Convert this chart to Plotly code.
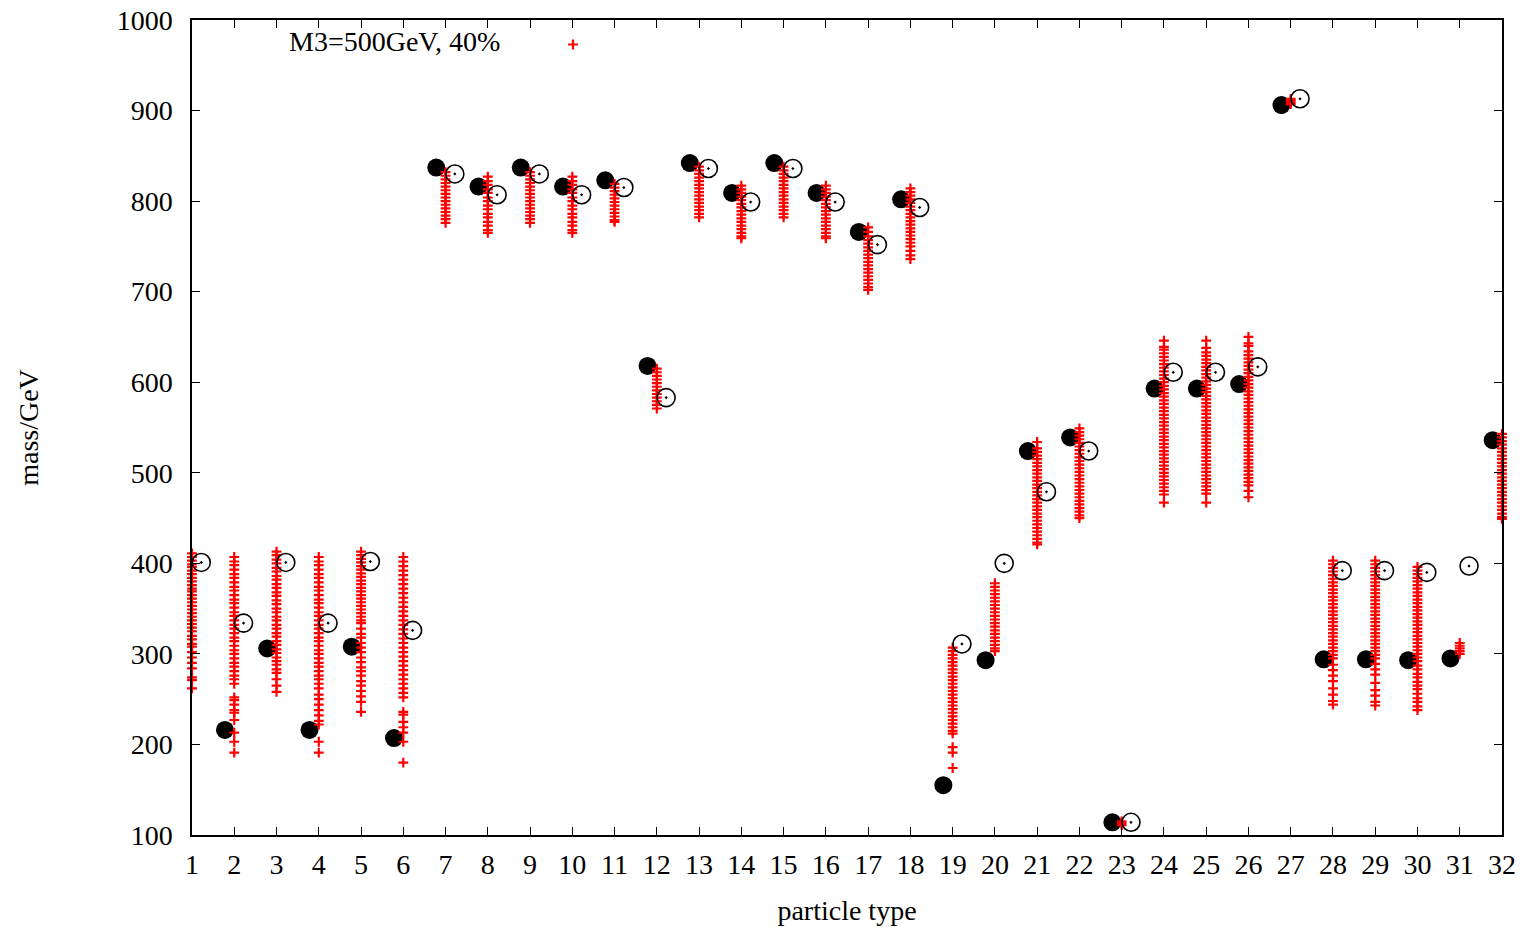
import plotly.graph_objects as go

particles = list(range(1, 33))
tick_labels = [str(n) for n in particles]

black_mass = [306, 216, 306, 216, 308, 207, 837, 816, 837, 816, 823, 618, 842, 809, 842, 809,
              766, 802, 155, 293, 524, 539, 114, 593, 593, 598, 906, 294, 294, 293, 295, 536]
open_mass = [401, 334, 401, 334, 402, 326, 830, 807, 830, 807, 815, 583, 836, 799, 836, 799,
             752, 793, 311, 400, 479, 524, 114, 611, 611, 617, 913, 392, 392, 390, 397, 521]

p01 = [411, 407, 403, 399, 396, 392, 388, 384, 380, 376, 372, 369, 365, 361, 357, 353, 349, 345,
       341, 337, 333, 329, 325, 320, 316, 311, 308, 302, 296, 290, 284, 274, 271, 262]
p02 = [407, 402, 398, 393, 388, 384, 379, 374, 370, 365, 360, 356, 351, 346, 342, 337, 332, 328,
       323, 318, 314, 309, 304, 300, 295, 290, 286, 281, 276, 272, 267, 252, 249, 244, 238, 235,
       227, 213, 203, 191]
p03 = [413, 409, 404, 400, 395, 391, 386, 382, 377, 373, 368, 364, 359, 355, 350, 346, 341, 337,
       332, 328, 323, 319, 314, 310, 305, 301, 296, 292, 288, 283, 279, 272, 265, 258]
p04 = [407, 402, 398, 393, 388, 384, 379, 374, 370, 365, 360, 356, 351, 346, 342, 337, 332, 328,
       323, 318, 314, 309, 304, 300, 295, 290, 286, 281, 276, 272, 267, 262, 255, 250, 244, 238,
       232, 226, 222, 203, 191]
p05 = [413, 409, 405, 401, 397, 393, 389, 385, 381, 377, 373, 369, 365, 361, 357, 353, 349, 345,
       341, 337, 334, 328, 322, 318, 312, 307, 302, 296, 291, 285, 281, 276, 270, 265, 259, 253,
       247, 236]
p06 = [407, 402, 397, 392, 387, 382, 377, 372, 367, 362, 357, 352, 347, 342, 337, 332, 327, 322,
       317, 312, 307, 302, 297, 292, 287, 282, 277, 272, 267, 262, 257, 252, 236, 233, 225, 219,
       213, 203, 180]
p07 = [832, 828, 824, 820, 816, 812, 808, 804, 800, 796, 792, 788, 784, 780, 776]
p08 = [827, 822, 818, 813, 809, 804, 800, 795, 791, 786, 782, 777, 773, 768, 765]
p09 = [832, 828, 824, 820, 816, 812, 808, 804, 800, 796, 792, 788, 784, 780, 776]
p10 = [827, 822, 818, 813, 809, 804, 800, 795, 791, 786, 782, 777, 773, 768, 765]
p11 = [819, 815, 811, 807, 803, 799, 795, 791, 787, 783, 779, 777]
p12 = [615, 611, 607, 603, 599, 595, 591, 587, 583, 579, 575, 571]
p13 = [838, 834, 830, 826, 822, 818, 814, 810, 806, 802, 798, 794, 790, 786, 782]
p14 = [817, 813, 809, 805, 801, 797, 793, 789, 785, 781, 777, 773, 769, 765, 761, 759]
p15 = [838, 834, 830, 826, 822, 818, 814, 810, 806, 802, 798, 794, 790, 786, 782]
p16 = [817, 813, 809, 805, 801, 797, 793, 789, 785, 781, 777, 773, 769, 765, 761, 759]
p17 = [771, 766, 761, 757, 753, 749, 745, 741, 737, 733, 729, 725, 721, 717, 713, 709, 705, 702]
p18 = [814, 810, 806, 802, 798, 794, 790, 786, 782, 778, 774, 770, 766, 762, 758, 754, 750, 745,
       740, 736]
p19 = [307, 303, 299, 295, 291, 287, 283, 279, 275, 271, 267, 263, 259, 255, 251, 247, 243, 239,
       235, 231, 227, 223, 219, 215, 212, 197, 191, 174]
p20 = [378, 374, 370, 366, 362, 358, 354, 350, 346, 342, 338, 334, 330, 326, 322, 318, 314, 310,
       306, 303]
p21 = [534, 527, 523, 519, 515, 511, 507, 503, 499, 495, 491, 487, 483, 479, 475, 471, 467, 463,
       459, 455, 451, 447, 443, 439, 435, 431, 427, 423, 421]
p22 = [549, 545, 541, 537, 533, 529, 525, 521, 517, 513, 509, 505, 501, 497, 493, 489, 485, 481,
       477, 473, 469, 465, 461, 457, 453, 450]
p23 = [111, 113, 115]
p24 = [646, 639, 636, 632, 628, 624, 620, 616, 612, 608, 604, 600, 596, 592, 588, 584, 580, 576,
       572, 568, 564, 560, 556, 552, 548, 544, 540, 536, 532, 528, 524, 520, 516, 512, 508, 504,
       500, 496, 492, 488, 484, 480, 476, 467]
p25 = [646, 638, 633, 629, 625, 621, 617, 613, 609, 605, 601, 597, 593, 589, 585, 581, 577, 573,
       569, 565, 561, 557, 553, 549, 545, 541, 537, 533, 529, 525, 521, 517, 513, 509, 505, 501,
       497, 493, 489, 485, 481, 477, 467]
p26 = [650, 643, 640, 634, 630, 626, 622, 618, 614, 610, 606, 602, 598, 594, 590, 586, 582, 578,
       574, 570, 566, 562, 558, 554, 550, 546, 542, 538, 534, 530, 526, 522, 518, 514, 510, 506,
       502, 498, 494, 490, 486, 480, 473]
p27 = [907, 909, 911, 913]
p28 = [403, 399, 395, 391, 387, 383, 379, 375, 371, 367, 363, 359, 355, 351, 347, 343, 339, 335,
       331, 327, 323, 319, 315, 311, 307, 303, 299, 295, 288, 282, 276, 270, 262, 255, 248, 244]
p29 = [403, 399, 395, 391, 387, 383, 379, 375, 371, 367, 363, 359, 355, 351, 347, 343, 339, 335,
       331, 327, 323, 319, 315, 311, 307, 303, 299, 295, 289, 283, 277, 268, 260, 254, 247, 243]
p30 = [396, 392, 388, 384, 380, 376, 372, 368, 364, 360, 356, 352, 348, 344, 340, 336, 332, 328,
       324, 320, 316, 312, 308, 304, 300, 296, 292, 287, 283, 278, 274, 269, 265, 261, 256, 251,
       247, 242, 238]
p31 = [300, 303, 306, 309, 312]
p32 = [543, 539, 535, 531, 527, 523, 519, 515, 511, 507, 503, 499, 495, 491, 487, 483, 479, 475,
       471, 467, 463, 459, 455, 451, 449]

red_columns = [p01, p02, p03, p04, p05, p06, p07, p08, p09, p10, p11, p12, p13, p14, p15, p16,
               p17, p18, p19, p20, p21, p22, p23, p24, p25, p26, p27, p28, p29, p30, p31, p32]

red_x, red_y = [], []
for n, col in zip(particles, red_columns):
    red_x += [n] * len(col)
    red_y += col

dodge = 0.22
FONT = "Liberation Serif, Times New Roman, serif"

fig = go.Figure()
fig.add_trace(go.Scatter(
    x=[n - dodge for n in particles], y=black_mass, mode="markers",
    marker=dict(symbol="circle", size=18, color="black"),
    showlegend=False, cliponaxis=False, hoverinfo="skip"))
fig.add_trace(go.Scatter(
    x=red_x, y=red_y, mode="markers", name=" ",
    marker=dict(symbol="cross-thin", size=7, color="red",
                line=dict(color="red", width=2.2)),
    showlegend=True, cliponaxis=False))
fig.add_trace(go.Scatter(
    x=[n + dodge for n in particles], y=open_mass, mode="markers",
    marker=dict(symbol="circle-open-dot", size=18, color="black",
                line=dict(color="black", width=1.6)),
    showlegend=False, cliponaxis=False, hoverinfo="skip"))

L, R, T, B = 192, 31, 20, 92
W, H = 1533, 927
pw, ph = W - L - R, H - T - B

axis_common = dict(
    showline=True, linecolor="black", linewidth=1.5, mirror="allticks",
    ticks="inside", ticklen=8, tickwidth=1.3, tickcolor="black",
    showgrid=False, zeroline=False, ticklabeloverflow="allow",
    tickfont=dict(family=FONT, size=28, color="black"),
)

fig.update_layout(
    width=W, height=H,
    margin=dict(l=L, r=R, t=T, b=B, autoexpand=False),
    paper_bgcolor="white", plot_bgcolor="white",
    font=dict(family=FONT, size=28, color="black"),
    xaxis=dict(range=[1, 32], tickmode="array", tickvals=particles, ticktext=tick_labels,
               title=dict(text="particle type", font=dict(family=FONT, size=28), standoff=21),
               ticklabelstandoff=4, **axis_common),
    yaxis=dict(range=[100, 1000], dtick=100, tick0=100,
               title=dict(text="mass/GeV", font=dict(family=FONT, size=28), standoff=70),
               ticklabelstandoff=12, **axis_common),
    legend=dict(x=(573 - 20 - L) / pw, y=(H - B - 30) / ph, xanchor="left", yanchor="top",
                bgcolor="rgba(0,0,0,0)", font=dict(size=10), borderwidth=0),
    annotations=[dict(text="M3=500GeV, 40%", xref="paper", yref="paper",
                      x=(502 - L) / pw, y=(H - B - 42) / ph, xanchor="right", yanchor="middle",
                      showarrow=False, font=dict(family=FONT, size=28, color="black"))],
)

# remove the default page margin so the figure fills the window exactly
fig.write_html("out.html", config={"displayModeBar": False},
               post_script="document.body.style.margin='0';")
